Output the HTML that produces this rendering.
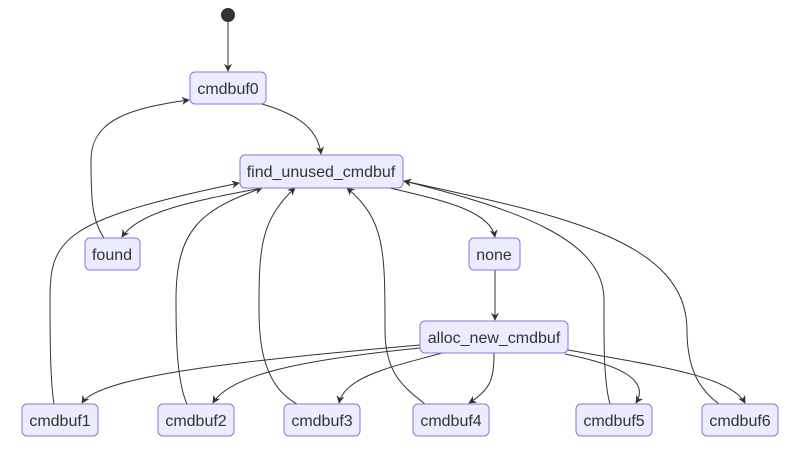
<!DOCTYPE html>
<html><head><meta charset="utf-8"><style>
html,body{margin:0;padding:0;background:#fff;}
svg text{font-family:"Liberation Sans",Arial,sans-serif;font-size:16px;fill:#333;}
</style></head><body>
<svg width="800" height="445" viewBox="0 0 800 445" xmlns="http://www.w3.org/2000/svg">
<defs>
<marker id="a" viewBox="0 0 10 10" refX="9" refY="5" markerWidth="8" markerHeight="8" orient="auto">
<path d="M0,0 L10,5 L0,10 L3,5 z" fill="#333"/>
</marker>
</defs>
<g fill="none" stroke="#333" stroke-width="1" marker-end="url(#a)">
<path d="M228,22 L228,71"/>
<path d="M262,104 C300,115 318,130 321,154"/>
<path d="M262,188 C200,200 140,210 122,237"/>
<path d="M104,238 C92,220 91,200 91,160 C91,120 130,108 189,100"/>
<path d="M390,188 C440,200 490,210 495,237"/>
<path d="M495,270 L495,320"/>
<path d="M54,404 C50,380 50,330 50,300 C50,240 60,220 239,183"/>
<path d="M187,404 C176,380 176,330 176,300 C176,230 200,210 262,188"/>
<path d="M297,404 C262,385 259,340 259,310 C259,250 260,220 295,188"/>
<path d="M425,404 C400,385 385,370 385,330 C385,250 385,220 347,188"/>
<path d="M610,404 C603,380 604,330 604,300 C604,240 520,210 404,181"/>
<path d="M719,404 C700,390 687,370 687,330 C687,240 560,215 404,181"/>
<path d="M420,345 C250,360 100,375 82,403"/>
<path d="M420,348 C300,360 230,375 213,403"/>
<path d="M442,353 C400,365 345,375 339,403"/>
<path d="M494,353 C494,380 490,390 469,403"/>
<path d="M565,354 C620,365 650,380 636,403"/>
<path d="M568,350 C650,365 730,375 745,403"/>
</g>
<circle cx="228" cy="15" r="7" fill="#333"/>
<g fill="#ECECFF" stroke="#9370DB" stroke-width="1">
<rect x="190" y="72" width="76" height="32" rx="5"/>
<rect x="240" y="155" width="163" height="33" rx="5"/>
<rect x="85" y="238" width="55" height="32" rx="5"/>
<rect x="469" y="238" width="51" height="32" rx="5"/>
<rect x="420" y="321" width="148" height="32" rx="5"/>
<rect x="22" y="404" width="76" height="32" rx="5"/>
<rect x="158" y="404" width="76" height="32" rx="5"/>
<rect x="284" y="404" width="76" height="32" rx="5"/>
<rect x="413" y="404" width="76" height="32" rx="5"/>
<rect x="576" y="404" width="76" height="32" rx="5"/>
<rect x="702" y="404" width="76" height="32" rx="5"/>
</g>
<g text-anchor="middle">
<text x="228" y="94">cmdbuf0</text>
<text x="321" y="177">find_unused_cmdbuf</text>
<text x="112" y="260">found</text>
<text x="494" y="260">none</text>
<text x="494" y="343">alloc_new_cmdbuf</text>
<text x="60" y="426">cmdbuf1</text>
<text x="196" y="426">cmdbuf2</text>
<text x="322" y="426">cmdbuf3</text>
<text x="451" y="426">cmdbuf4</text>
<text x="614" y="426">cmdbuf5</text>
<text x="740" y="426">cmdbuf6</text>
</g>
</svg>
</body></html>
